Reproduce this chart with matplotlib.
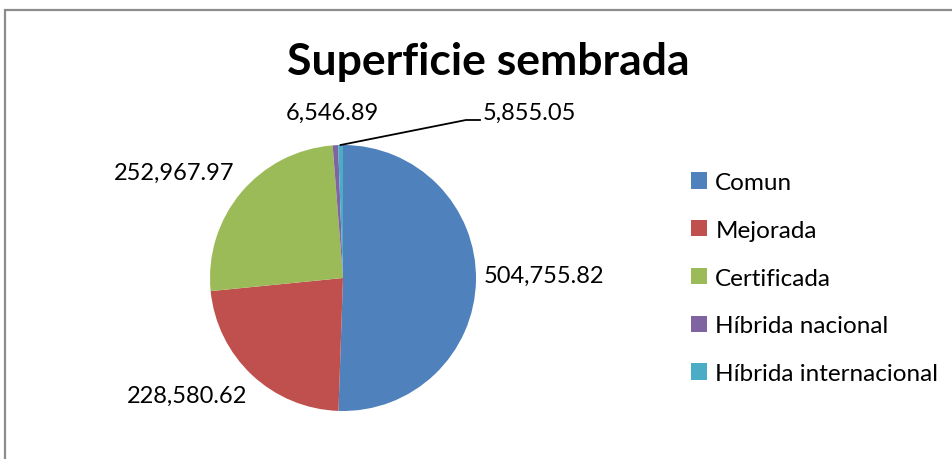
import matplotlib
matplotlib.use("Agg")
import matplotlib.pyplot as plt
from matplotlib.patches import Rectangle, Patch
import numpy as np

plt.rcParams['font.family'] = ['Lato', 'DejaVu Sans']

categorias = ["Comun", "Mejorada", "Certificada", "Híbrida nacional", "Híbrida internacional"]
superficie = [504755.82, 228580.62, 252967.97, 6546.89, 5855.05]
colores = ["#4F81BD", "#C0504D", "#9BBB59", "#8064A2", "#4BACC6"]
etiquetas = ["{:,.2f}".format(v) for v in superficie]

W, H = 953, 460
fig = plt.figure(figsize=(W / 100, H / 100), dpi=100)

# gray frame like the Excel chart area (cut on right and bottom)
fig.patches.append(Rectangle((4.5 / W, -0.1), 1.2, (H - 10.5) / H + 0.1,
                             transform=fig.transFigure, fill=False,
                             edgecolor="#8c8c8c", lw=1.6))

# axes so that the pie centre is at (343, 279) px with radius 133 px
cx, cy, r = 343, 279, 133
half = 1.5 * r
ax = fig.add_axes([(cx - half) / W, (H - cy - half) / H, 2 * half / W, 2 * half / H])

wedges, _ = ax.pie(superficie, colors=colores, startangle=90, counterclock=False,
                   radius=1, wedgeprops=dict(linewidth=0))
ax.set_xlim(-1.5, 1.5)
ax.set_ylim(-1.5, 1.5)
ax.set_aspect("equal")
ax.axis("off")

# label positions (radius, angle in deg) for each slice, Excel "best fit"
pos = [(1.06, 1.0, "left"), (1.47, -143, "center"), (1.5, 148, "center"),
       (1.25, 93.5, "center"), None]
for w, lab, p in zip(wedges, etiquetas, pos):
    if p is None:
        continue
    d, ang, ha = p
    a = np.radians(ang)
    ax.text(d * np.cos(a), d * np.sin(a), lab, ha=ha, va="center",
            fontsize=17, clip_on=False)

# leader line for the smallest slice
w = wedges[4]
mid = np.radians((w.theta1 + w.theta2) / 2)
x0, y0 = np.cos(mid), np.sin(mid)
ax.plot([x0, 0.925, 1.03], [y0, 1.188, 1.188], color="black", lw=1.3, clip_on=False)
ax.text(1.05, 1.245, etiquetas[4], ha="left", va="center", fontsize=17, clip_on=False)

fig.text(488 / W, 1 - 62 / H, "Superficie sembrada", ha="center", va="center",
         fontsize=32, fontweight="bold")

handles = [Patch(facecolor=c, edgecolor="none") for c in colores]
fig.legend(handles, categorias, loc="center left", bbox_to_anchor=(691 / W, 1 - 279 / H),
           frameon=False, fontsize=17.5, handlelength=0.65, handleheight=0.65,
           handletextpad=0.35, labelspacing=1.1, borderpad=0, borderaxespad=0)

fig.savefig("out.png", dpi=100)
